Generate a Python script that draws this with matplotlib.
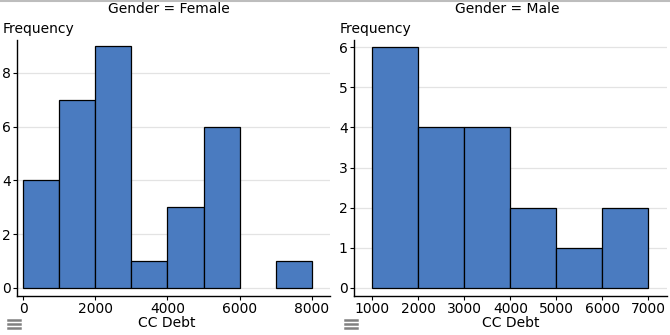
import matplotlib
matplotlib.use("Agg")
import matplotlib.pyplot as plt
from matplotlib.lines import Line2D

# histogram bins (CC Debt) and counts per gender
female_edges = [0, 1000, 2000, 3000, 4000, 5000, 6000, 7000, 8000]
female_counts = [4, 7, 9, 1, 3, 6, 0, 1]
male_edges = [1000, 2000, 3000, 4000, 5000, 6000, 7000]
male_counts = [6, 4, 4, 2, 1, 2]

female_xticks = [0, 2000, 4000, 6000, 8000]
female_yticks = [0, 2, 4, 6, 8]
male_xticks = [1000, 2000, 3000, 4000, 5000, 6000, 7000]
male_yticks = [0, 1, 2, 3, 4, 5, 6]

BAR = "#4a7bc0"
W, H = 670, 335
FS = 10

plt.rcParams["font.family"] = "DejaVu Sans"
fig = plt.figure(figsize=(W / 100, H / 100), dpi=100)


def px(x, y):
    return x / W, 1 - y / H


def panel(rect, edges, counts, xticks, yticks, xlim, ylim):
    ax = fig.add_axes(rect)
    for lo, hi, c in zip(edges[:-1], edges[1:], counts):
        if c > 0:
            ax.bar(lo, c, width=hi - lo, align="edge", color=BAR,
                   edgecolor="black", linewidth=0.9, zorder=3)
    ax.set_xlim(*xlim)
    ax.set_ylim(*ylim)
    ax.set_xticks(xticks)
    ax.set_yticks(yticks)
    for t in yticks:
        ax.axhline(t, color="#e3e3e3", linewidth=0.9, zorder=1)
    for s in ("top", "right"):
        ax.spines[s].set_visible(False)
    for s in ("left", "bottom"):
        ax.spines[s].set_linewidth(1.0)
    ax.tick_params(length=3, width=0.8, labelsize=FS, pad=1.5)
    return ax


panel([17 / W, 1 - 296 / H, 313 / W, 256 / H], female_edges, female_counts,
      female_xticks, female_yticks, (-167, 8500), (-0.3, 9.22))
panel([354 / W, 1 - 296 / H, 313 / W, 256 / H], male_edges, male_counts,
      male_xticks, male_yticks, (602, 7406), (-0.2, 6.18))

# titles and axis labels
fig.text(*px(169, 9), "Gender = Female", ha="center", va="center", fontsize=FS)
fig.text(*px(507, 9), "Gender = Male", ha="center", va="center", fontsize=FS)
fig.text(*px(3, 29), "Frequency", ha="left", va="center", fontsize=FS)
fig.text(*px(340, 29), "Frequency", ha="left", va="center", fontsize=FS)
fig.text(*px(167, 323), "CC Debt", ha="center", va="center", fontsize=FS)
fig.text(*px(511, 323), "CC Debt", ha="center", va="center", fontsize=FS)

# thin gray rule along the top edge
fig.add_artist(Line2D([0, 1], [1 - 0.8 / H, 1 - 0.8 / H], color="#bdbdbd",
                      linewidth=1.5, transform=fig.transFigure))

# menu icons below each panel
for x0 in (8, 345):
    for yy in (320, 324, 328):
        fig.add_artist(Line2D([x0 / W, (x0 + 12) / W], [1 - yy / H] * 2,
                              color="#808080", linewidth=1.8,
                              transform=fig.transFigure))

fig.savefig("out.png", dpi=100)
